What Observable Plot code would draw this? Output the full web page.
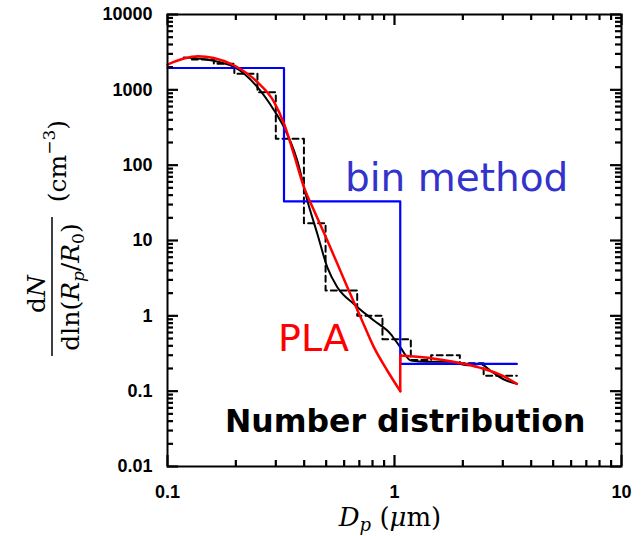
<!DOCTYPE html>
<html>
<head>
<meta charset="utf-8">
<script src="https://cdn.jsdelivr.net/npm/d3@7"></script>
<script src="https://cdn.jsdelivr.net/npm/@observablehq/plot@0.6"></script>
<style>
  html, body { margin: 0; padding: 0; background: white; }
  #chart svg { background: white; color: black; }
</style>
</head>
<body>
<div id="chart"></div>
<script>
// ---- data ----
// bin method (3 bins, step function)
const binX = [0.1, 0.326, 1.06, 3.46];
const binY = [1950, 33, 0.23, 0.23];

// fine-bin histogram (black dashed, step function)
const histX = [0.128, 0.16, 0.197, 0.249, 0.300, 0.399, 0.497, 0.685, 0.885, 1.18, 1.45, 1.94, 2.47, 3.46];
const histY = [2530, 2213, 1633, 930, 224, 17, 2.17, 1.0, 0.49, 0.26, 0.30, 0.235, 0.16, 0.16];

// reference solution (black solid)
const refX = [0.118, 0.14, 0.197, 0.249, 0.295, 0.326, 0.373, 0.413, 0.457, 0.506, 0.56, 0.662, 0.811, 0.96, 1.06, 1.18, 1.39, 1.76, 2.09, 2.39, 2.64, 3.02, 3.46];
const refY = [2685, 2580, 2000, 1083, 532, 319, 115, 34, 12.3, 4.4, 2.4, 1.44, 0.867, 0.577, 0.384, 0.255, 0.245, 0.245, 0.22, 0.23, 0.188, 0.144, 0.125];

// PLA (red), two pieces joined by a jump at the bin edge
const plaX1 = [0.1, 0.118, 0.136, 0.16, 0.197, 0.249, 0.295, 0.326, 0.360, 0.399, 0.442, 0.506, 0.62, 0.709, 0.811, 0.929, 1.06];
const plaY1 = [2167, 2600, 2800, 2650, 2103, 1262, 686, 354, 141.6, 51, 25, 10, 2.4, 0.96, 0.384, 0.188, 0.10];
const plaX2 = [1.06, 1.5, 2.02, 2.47, 3.0, 3.46];
const plaY2 = [0.297, 0.27, 0.231, 0.198, 0.16, 0.125];

// axes
const xMajor = [0.1, 1, 10];
const xTickLabels = ["0.1", "1", "10"];
const yMajor = [0.01, 0.1, 1, 10, 100, 1000, 10000];
const yTickLabels = ["0.01", "0.1", "1", "10", "100", "1000", "10000"];
const minorMultipliers = [2, 3, 4, 5, 6, 7, 8, 9];

const minorTicks = (majors) => majors.slice(0, -1).flatMap(m => minorMultipliers.map(k => m * k));
const xMinor = minorTicks(xMajor);
const yMinor = minorTicks(yMajor);

const pts = (xs, ys) => xs.map((x, i) => ({x, y: ys[i]}));
const binData = pts(binX, binY);
const histData = pts(histX, histY);
const refData = pts(refX, refY);
const pla1 = pts(plaX1, plaY1);
const pla2 = pts(plaX2, plaY2);
const plaJump = [pla1[pla1.length - 1], pla2[0]];

// layout
const W = 642, H = 536;
const mL = 167, mR = 21, mT = 14, mB = 70;
const frameW = W - mL - mR, frameH = H - mT - mB;
const majorLen = 11, minorLen = 6;

const tickFont = {fontFamily: "Liberation Sans", fontWeight: "bold", fontSize: 18};
const tk = {stroke: "#000000", strokeWidth: 2.2};
const yTicks = (vals, len, side) => Plot.ruleY(vals, {y: d => d, ...tk,
  [side === "left" ? "insetRight" : "insetLeft"]: frameW - len});
const xTicks = (vals, len, side) => Plot.ruleX(vals, {x: d => d, ...tk,
  [side === "bottom" ? "insetTop" : "insetBottom"]: frameH - len});

const chart = Plot.plot({
  width: W,
  height: H,
  marginLeft: mL,
  marginRight: mR,
  marginTop: mT,
  marginBottom: mB,
  x: {type: "log", domain: [0.1, 10]},
  y: {type: "log", domain: [0.01, 10000]},
  marks: [
    // tick labels
    Plot.axisY(yMajor, {anchor: "left", tickSize: 0, tickPadding: 15, label: null,
      tickFormat: d => yTickLabels[yMajor.indexOf(d)], fill: "black", ...tickFont}),
    Plot.axisX(xMajor, {anchor: "bottom", tickSize: 0, tickPadding: 19, label: null,
      tickFormat: d => xTickLabels[xMajor.indexOf(d)], fill: "black", ...tickFont}),
    // series
    Plot.line(histData, {x: "x", y: "y", curve: "step-after", stroke: "black", strokeWidth: 2, strokeDasharray: "6,4"}),
    Plot.line(refData, {x: "x", y: "y", curve: "monotone-x", stroke: "black", strokeWidth: 2}),
    Plot.line(binData, {x: "x", y: "y", curve: "step-after", stroke: "#0000ff", strokeWidth: 2.2}),
    Plot.line(pla1, {x: "x", y: "y", curve: "monotone-x", stroke: "#ff0000", strokeWidth: 2.5}),
    Plot.line(plaJump, {x: "x", y: "y", stroke: "#ff0000", strokeWidth: 2.5}),
    Plot.line(pla2, {x: "x", y: "y", curve: "monotone-x", stroke: "#ff0000", strokeWidth: 2.5}),
    // annotations
    Plot.text(["bin method"], {x: () => 0.605, y: () => 66, text: d => d, textAnchor: "start",
      fill: "#3333cc", fontFamily: "DejaVu Sans", fontSize: 39}),
    Plot.text(["PLA"], {x: () => 0.307, y: () => 0.5, text: d => d, textAnchor: "start",
      fill: "#ff0000", fontFamily: "DejaVu Sans", fontSize: 38}),
    Plot.text(["Number distribution"], {x: () => 0.179, y: () => 0.0387, text: d => d, textAnchor: "start",
      fill: "black", fontFamily: "DejaVu Sans", fontWeight: "bold", fontSize: 31.5}),
    Plot.frame({stroke: "black", strokeWidth: 2}),
    // inward ticks on all four sides (drawn last, on top)
    yTicks(yMajor, majorLen, "left"),
    yTicks(yMinor, minorLen, "left"),
    yTicks(yMajor, majorLen, "right"),
    yTicks(yMinor, minorLen, "right"),
    xTicks(xMajor, majorLen, "bottom"),
    xTicks(xMinor, minorLen, "bottom"),
    xTicks(xMajor, majorLen, "top"),
    xTicks(xMinor, minorLen, "top")
  ]
});

document.getElementById("chart").appendChild(chart);

const svg = d3.select(chart);

// ---- axis titles (math-style) ----
const serif = "DejaVu Serif";

// y title: rotated fraction
const g = svg.append("g")
  .attr("transform", "translate(0,287) rotate(-90)")
  .attr("font-family", serif)
  .attr("font-size", 25)
  .attr("fill", "black");

const num = g.append("text").attr("x", -7).attr("y", 45).attr("text-anchor", "middle");
num.append("tspan").text("d");
num.append("tspan").attr("font-style", "italic").text("N");

g.append("line")
  .attr("x1", -69).attr("x2", 70).attr("y1", 52).attr("y2", 52)
  .attr("stroke", "black").attr("stroke-width", 1.5);

const den = g.append("text").attr("x", 0).attr("y", 79).attr("text-anchor", "middle");
den.append("tspan").text("dln(");
den.append("tspan").attr("font-style", "italic").text("R");
den.append("tspan").attr("font-style", "italic").attr("font-size", 17).attr("dy", 5).text("p");
den.append("tspan").attr("dy", -5).text("/");
den.append("tspan").attr("font-style", "italic").text("R");
den.append("tspan").attr("font-size", 17).attr("dy", 5).text("0");
den.append("tspan").attr("dy", -5).text(")");

const unit = g.append("text").attr("x", 126).attr("y", 66).attr("text-anchor", "middle");
unit.append("tspan").text("(cm");
unit.append("tspan").attr("font-size", 17).attr("dy", -11).text("−3");
unit.append("tspan").attr("dy", 11).text(")");

// x title
const xt = svg.append("text")
  .attr("x", 390).attr("y", 526)
  .attr("text-anchor", "middle")
  .attr("font-family", serif)
  .attr("font-size", 26)
  .attr("fill", "black");
xt.append("tspan").attr("font-style", "italic").text("D");
xt.append("tspan").attr("font-style", "italic").attr("font-size", 18).attr("dy", 5).text("p");
xt.append("tspan").attr("dy", -5).text(" (");
xt.append("tspan").attr("font-style", "italic").text("μ");
xt.append("tspan").text("m)");
</script>
</body>
</html>
